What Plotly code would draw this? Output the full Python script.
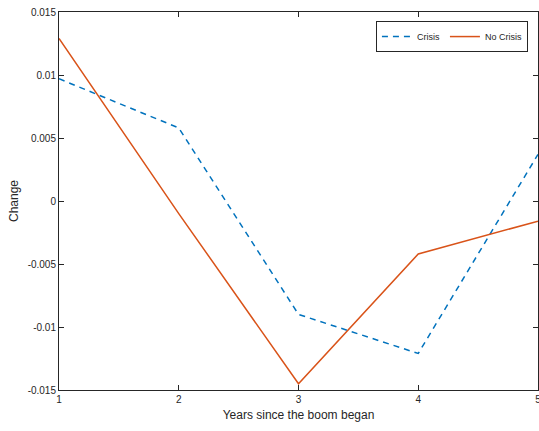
import plotly.graph_objects as go

years = [1, 2, 3, 4, 5]
crisis = [0.0097, 0.0058, -0.0090, -0.0121, 0.0037]
no_crisis = [0.0129, -0.0010, -0.0145, -0.0042, -0.0016]
y_ticks = [-0.015, -0.01, -0.005, 0, 0.005, 0.01, 0.015]
y_tick_text = ["-0.015", "-0.01", "-0.005", "0", "0.005", "0.01", "0.015"]

fig = go.Figure()
fig.add_trace(go.Scatter(x=years, y=crisis, mode="lines", name="Crisis",
                         line=dict(color="#0072BD", width=1.5, dash="6px,5px")))
fig.add_trace(go.Scatter(x=years, y=no_crisis, mode="lines", name="No Crisis",
                         line=dict(color="#D95319", width=1.5)))

axis_common = dict(showline=True, linecolor="#262626", linewidth=1, mirror="ticks",
                   ticks="inside", ticklen=5, tickcolor="#262626", showgrid=False,
                   zeroline=False, automargin=False,
                   tickfont=dict(family="Liberation Sans, Arial", size=10, color="#262626"))

fig.update_xaxes(range=[1, 5], tickvals=years, ticktext=[str(v) for v in years],
                 ticklabeloverflow="allow",
                 title=dict(text="Years since the boom began", standoff=6,
                            font=dict(family="Liberation Sans, Arial", size=12, color="#262626")),
                 **axis_common)
fig.update_yaxes(range=[-0.015, 0.015], tickvals=y_ticks, ticktext=y_tick_text,
                 title=dict(text="Change", standoff=6,
                            font=dict(family="Liberation Sans, Arial", size=12, color="#262626")),
                 **axis_common)

fig.update_layout(
    width=539, height=431,
    margin=dict(l=59, r=1, t=12, b=41, autoexpand=False),
    plot_bgcolor="white", paper_bgcolor="white",
    legend=dict(orientation="h", x=0.979, y=0.976, xanchor="right", yanchor="top",
                bordercolor="#262626", borderwidth=1, bgcolor="white",
                font=dict(family="Liberation Sans, Arial", size=9, color="#262626"),
                itemwidth=30, tracegroupgap=0),
    showlegend=True,
)

fig.write_html("out.html")
